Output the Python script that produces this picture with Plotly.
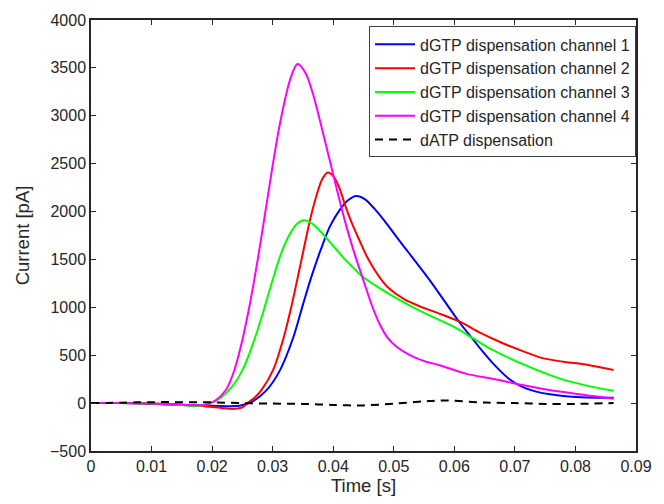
import plotly.graph_objects as go

# Channel 1 (dGTP)
t_ch1 = [0, 0.005, 0.010, 0.015, 0.020, 0.0245, 0.0266, 0.0290, 0.0312, 0.0334, 0.0350,
         0.0363, 0.0380, 0.0395, 0.0410, 0.0425, 0.0438, 0.0452, 0.0468, 0.0485, 0.0507,
         0.0561, 0.0609, 0.0631, 0.0644, 0.0663, 0.0690, 0.0712, 0.0735, 0.0755, 0.0780,
         0.0809, 0.0863]
i_ch1 = [0, 0, -8, -20, -28, -28, 15, 136, 342, 685, 1028,
         1300, 1612, 1850, 2010, 2120, 2162, 2130, 2030, 1900, 1715,
         1269, 839, 665, 560, 420, 255, 170, 120, 95, 75,
         62, 55]

# Channel 2 (dGTP)
t_ch2 = [0, 0.005, 0.010, 0.015, 0.019, 0.0215, 0.0236, 0.0250, 0.0258, 0.0270, 0.0282,
         0.0301, 0.0318, 0.0331, 0.0342, 0.0352, 0.0362, 0.0372, 0.0382, 0.0391, 0.0400,
         0.0410, 0.0420, 0.0432, 0.0444, 0.0456, 0.0469, 0.0480, 0.0490, 0.0517, 0.0545,
         0.0571, 0.0609, 0.0644, 0.0680, 0.0712, 0.0744, 0.0780, 0.0809, 0.0863]
i_ch2 = [0, 0, -5, -20, -35, -50, -60, -45, 0, 55, 140,
         350, 680, 1010, 1330, 1630, 1920, 2160, 2340, 2408, 2370,
         2250, 2060, 1860, 1690, 1525, 1385, 1285, 1210, 1085, 1005,
         945, 850, 730, 625, 545, 472, 432, 410, 345]

# Channel 3 (dGTP)
t_ch3 = [0, 0.005, 0.010, 0.015, 0.018, 0.0204, 0.0228, 0.0250, 0.0271, 0.0288, 0.0302,
         0.0315, 0.0328, 0.0340, 0.0352, 0.0365, 0.0380, 0.0404, 0.0420, 0.0436, 0.0447,
         0.0490, 0.0544, 0.0598, 0.0631, 0.0663, 0.0712, 0.0777, 0.0820, 0.0863]
i_ch3 = [0, 0, -5, -20, -30, 15, 136, 342, 685, 1028, 1330,
         1580, 1760, 1870, 1910, 1875, 1784, 1612, 1495, 1395, 1328,
         1148, 960, 800, 675, 555, 410, 250, 180, 128]

# Channel 4 (dGTP)
t_ch4 = [0, 0.005, 0.010, 0.015, 0.0188, 0.0206, 0.0223, 0.0236, 0.0250, 0.0261, 0.0270,
         0.0280, 0.0290, 0.0300, 0.0310, 0.0320, 0.0330, 0.0341, 0.0354, 0.0366, 0.0380,
         0.0394, 0.0408, 0.0422, 0.0436, 0.0447, 0.0463, 0.0477, 0.0490, 0.0505, 0.0528,
         0.0552, 0.0577, 0.0620, 0.0663, 0.0712, 0.0780, 0.0863]
i_ch4 = [0, 0, -5, -15, -20, 30, 140, 330, 660, 990, 1300,
         1680, 2080, 2480, 2850, 3160, 3400, 3540, 3450, 3240, 2900,
         2540, 2180, 1840, 1543, 1337, 1035, 820, 680, 585, 496,
         435, 393, 305, 255, 190, 115, 45]

# dATP control
t_atp = [0, 0.005, 0.010, 0.015, 0.020, 0.025, 0.030, 0.035, 0.040, 0.045, 0.050, 0.055,
         0.058, 0.065, 0.070, 0.075, 0.080, 0.0863]
i_atp = [0, 5, 10, 10, 8, 0, -5, -8, -19, -24, -5, 18,
         28, 6, 0, -8, -8, 0]

names = ["dGTP dispensation channel 1", "dGTP dispensation channel 2",
         "dGTP dispensation channel 3", "dGTP dispensation channel 4",
         "dATP dispensation"]

x_ticks = [0, 0.01, 0.02, 0.03, 0.04, 0.05, 0.06, 0.07, 0.08, 0.09]
y_ticks = [-500, 0, 500, 1000, 1500, 2000, 2500, 3000, 3500, 4000]

series = [
    (t_ch1, i_ch1, "#0000ff", "solid"),
    (t_ch2, i_ch2, "#ff0000", "solid"),
    (t_ch3, i_ch3, "#00ff00", "solid"),
    (t_ch4, i_ch4, "#ff00ff", "solid"),
    (t_atp, i_atp, "#000000", "8px,6px"),
]

fig = go.Figure()
for (t, i, color, dash), name in zip(series, names):
    fig.add_trace(go.Scatter(
        x=t, y=i, mode="lines", name=name,
        line=dict(color=color, width=2, dash=dash, shape="spline", smoothing=0.9),
    ))

FONT = "Liberation Sans, Arial, Helvetica, sans-serif"
TXT = "#262626"
axis_common = dict(
    showline=True, linecolor=TXT, linewidth=1.5, mirror="ticks",
    ticks="inside", ticklen=5, tickwidth=1, tickcolor=TXT,
    showgrid=False, zeroline=False,
    tickfont=dict(family=FONT, size=16, color=TXT),
)

fig.update_layout(
    width=664, height=504,
    margin=dict(l=91, r=18, t=18, b=49),
    paper_bgcolor="white", plot_bgcolor="white",
    font=dict(family=FONT, color=TXT),
    showlegend=True,
    legend=dict(
        x=1.0, y=0.985, xanchor="right", yanchor="top",
        bgcolor="white", bordercolor="#404040", borderwidth=1,
        font=dict(family=FONT, size=16, color=TXT),
        itemwidth=40, tracegroupgap=0,
    ),
)
fig.update_xaxes(
    range=[0, 0.09], tickvals=x_ticks,
    ticktext=["0" if v == 0 else f"{v:g}" for v in x_ticks],
    title=dict(text="Time [s]", font=dict(family=FONT, size=18.5, color=TXT), standoff=4),
    **axis_common,
)
fig.update_yaxes(
    range=[-500, 4000], tickvals=y_ticks,
    ticktext=[str(v).replace("-", "\u2212") for v in y_ticks],
    title=dict(text="Current [pA]", font=dict(family=FONT, size=18.5, color=TXT), standoff=16),
    **axis_common,
)

fig.write_html("out.html")
